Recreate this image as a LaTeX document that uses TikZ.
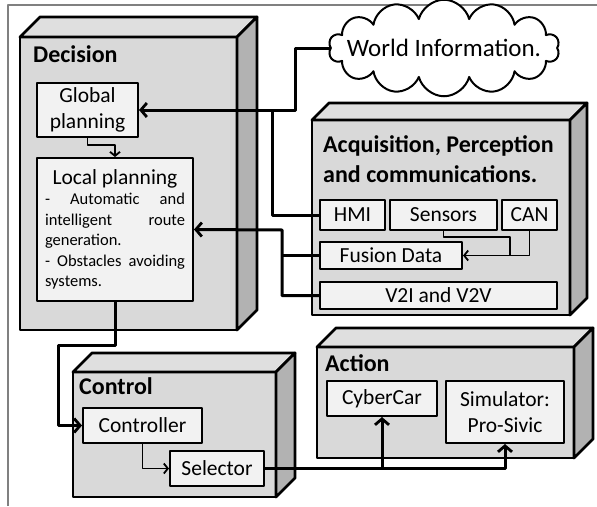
\documentclass[tikz,border=0pt]{standalone}
\usepackage{fontspec}
\setmainfont{Carlito}
\usetikzlibrary{arrows.meta, shapes.symbols}

% top and right faces of a box node
\newcommand{\cubefaces}[2]{%
  \filldraw[fill=gray!25, line width=2.8pt, line join=round]
    (#1.north west) -- ++(#2,-#2) -- ([shift={(#2,-#2)}]#1.north east) -- (#1.north east) -- cycle;
  \filldraw[fill=gray!60, line width=2.8pt, line join=round]
    (#1.north east) -- ++(#2,-#2) -- ([shift={(#2,-#2)}]#1.south east) -- (#1.south east) -- cycle;
}

\begin{document}
\begin{tikzpicture}[
            x = 1pt, y = -1pt, % pixel grid, y downwards
            > = {Straight Barb[length=6pt,width=14pt,line width=2.8pt]}, % arrow head style
            line join = round,
            font = \fontsize{21.5}{26}\selectfont
        ]

        \tikzstyle{cube}=[
            draw = black,
            line width = 2.8pt,
            fill = gray!30,
            outer sep = 0pt,
            anchor = north west
        ]
        \tikzstyle{block}=[
            draw = black,
            line width = 2pt,
            fill = gray!10,
            inner sep = 0pt,
            align = center
        ]
        \tikzstyle{title}=[
            font = \fontsize{24}{30}\selectfont\bfseries,
            anchor = base west,
            inner sep = 0pt,
            align = left
        ]
        \tikzstyle{conn}=[line width = 3pt]
        \tikzstyle{thinconn}=[line width = 1.8pt, > = {Straight Barb[length=4pt,width=10pt,line width=1.8pt]}]

        \useasboundingbox (0,0) rectangle (597,506);
        \draw[gray, line width = 1.2pt] (8,506) -- (8,5) -- (597,5);

        % big boxes
        \node[cube, minimum width = 217pt, minimum height = 293pt] (dec) at (20,37) {};
        \cubefaces{dec}{20}
        \node[cube, minimum width = 258pt, minimum height = 195pt] (acq) at (312,120) {};
        \cubefaces{acq}{17}
        \node[cube, minimum width = 203pt, minimum height = 125pt] (ctrl) at (73,372) {};
        \cubefaces{ctrl}{19}
        \node[cube, minimum width = 257pt, minimum height = 111pt] (act) at (317,347) {};
        \cubefaces{act}{19}

        \node[title] (tdec) at (33,62) {Decision};
        \node[title] (tacq) at (323,182) {Acquisition, Perception\\and communications.};
        \node[title] (tctrl) at (79,394) {Control};
        \node[title] (tact) at (325,371) {Action};

        % inner blocks
        \node[block, minimum width = 101pt, minimum height = 54pt] (gp) at (87.5,110) {Global\\planning};
        \node[block, minimum height = 143pt, text width = 140pt, inner xsep = 8pt,
              font = \fontsize{16.5}{20.5}\selectfont,
              align = justify] (lp) at (115,229.5)
            {\hyphenpenalty=10000 \exhyphenpenalty=10000
             \makebox[\linewidth]{\fontsize{21.5}{26}\selectfont Local planning}\par
             - Automatic and intelligent route generation.\par
             - Obstacles avoiding systems.};

        \node[block, minimum width = 65pt, minimum height = 30pt] (hmi) at (352.5,215) {HMI};
        \node[block, minimum width = 107pt, minimum height = 30pt] (sen) at (443.5,215) {Sensors};
        \node[block, minimum width = 55pt, minimum height = 30pt] (can) at (529.5,215) {CAN};
        \node[block, minimum width = 142pt, minimum height = 27pt] (fus) at (391,255.5) {Fusion Data};
        \node[block, minimum width = 237pt, minimum height = 27pt] (v2x) at (438.5,295.5) {V2I and V2V};

        \node[block, minimum width = 119pt, minimum height = 35pt] (ctl) at (142.5,425.5) {Controller};
        \node[block, minimum width = 94pt, minimum height = 35pt] (sel) at (217,468.5) {Selector};
        \node[block, minimum width = 110pt, minimum height = 35pt] (cc) at (382,398.5) {CyberCar};
        \node[block, minimum width = 118pt, minimum height = 62pt] (sim) at (505,412) {Simulator:\\Pro-Sivic};

        \node[cloud, draw, line width = 2pt, fill = white, cloud puffs = 14, cloud ignores aspect,
              inner xsep = 80pt, inner ysep = 21pt,
              label = {[font = \fontsize{25}{28}\selectfont]center:World Information.}] (wi) at (444,48) {};

        % connectors
        \coordinate (j1) at (295,110);
        \coordinate (j2) at (272,110);
        \coordinate (j3) at (282,230);
        \coordinate (j4) at (510,237);
        \coordinate (j5) at (58,345);

        \draw[conn, ->] (wi.west) -| (j1) -- (gp.east);
        \draw[conn] (hmi.west) -| (j2);
        \draw[conn, ->] (v2x.west) -| (j3) -- (lp.east);
        \draw[conn] (fus.west) -- (fus.west -| j3);
        \draw[thinconn, ->] (gp.south) -- ++(0,7) -| (lp.north);
        \draw[thinconn, ->] (sen.south) |- (j4) |- (fus.east);
        \draw[thinconn] (can.south) |- (fus.east);
        \draw[conn, ->] (lp.south) |- (j5) |- (ctl.west);
        \draw[thinconn, ->] (ctl.south) |- (sel.west);
        \draw[conn, ->] (sel.east) -| (cc.south);
        \draw[conn, ->] (sel.east) -| (sim.south);
    \end{tikzpicture}
\end{document}
